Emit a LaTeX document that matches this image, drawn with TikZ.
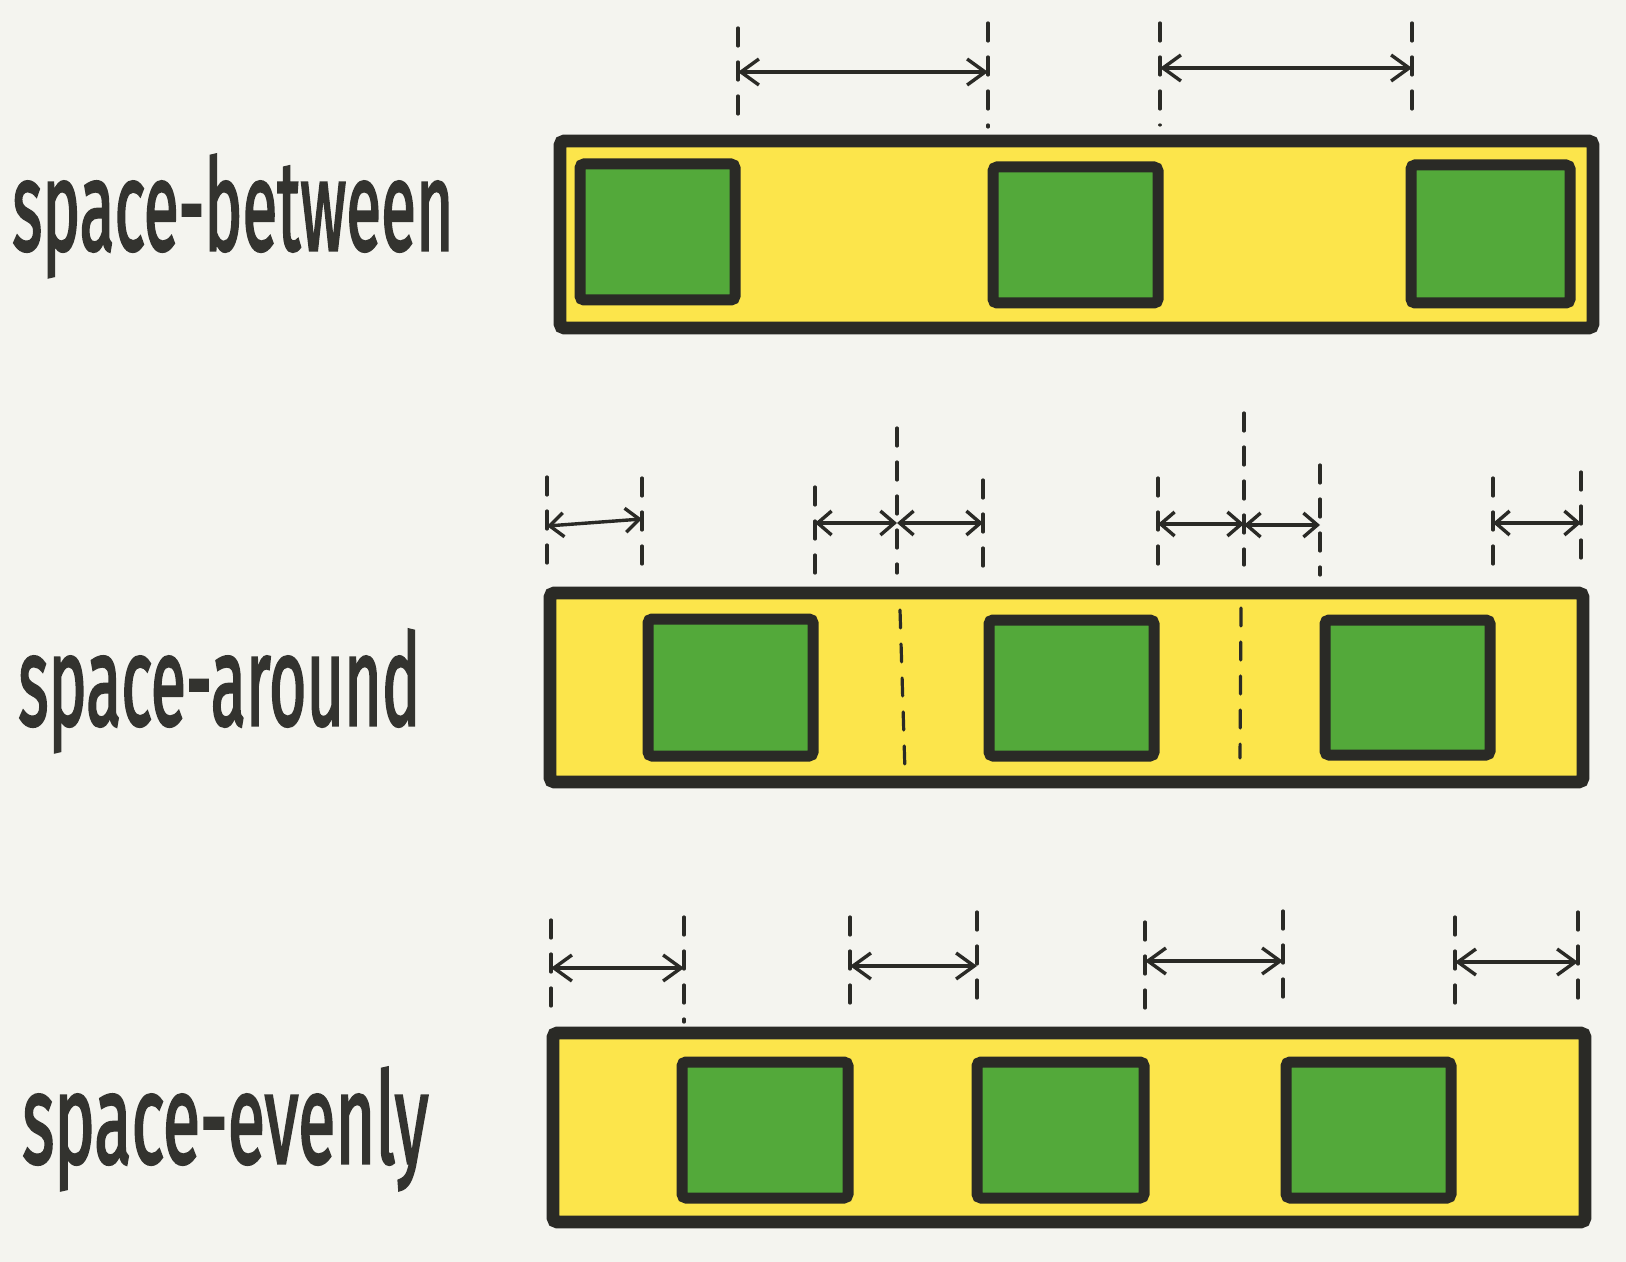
\documentclass[tikz,border=0pt]{standalone}
\usepackage{fontspec}
\setmainfont{Fira Sans}
\newfontfamily\labelfont[FakeBold=2.5]{Fira Sans}
\usetikzlibrary{arrows.meta,fit}
\definecolor{bg}{HTML}{F4F4EF}
\definecolor{yel}{HTML}{FCE54B}
\definecolor{grn}{HTML}{53A93A}
\definecolor{ink}{HTML}{2A2A26}
\definecolor{txt}{HTML}{33332F}
\begin{document}
\begin{tikzpicture}[x=0.5pt,y=-0.5pt,
  outerbox/.style={draw=ink, fill=yel, line width=6.3pt, rounded corners=2pt, inner sep=0pt, outer sep=0pt},
  itembox/.style={draw=ink, fill=grn, line width=5.5pt, rounded corners=2pt, inner sep=0pt, outer sep=0pt},
  guide/.style={draw=ink, line width=1.6pt, dash pattern=on 9pt off 8pt, line cap=round},
  dimbig/.style={draw=ink, line width=1.7pt, {Straight Barb[length=9pt,width=13pt]}-{Straight Barb[length=9pt,width=13pt]}},
  dimsmall/.style={draw=ink, line width=1.7pt, {Straight Barb[length=7pt,width=12pt]}-{Straight Barb[length=7pt,width=12pt]}},
  lbl/.style={text=txt, inner sep=0pt, anchor=base west, font=\labelfont\fontsize{63.5pt}{70pt}\selectfont}]
\useasboundingbox[fill=bg] (0,0) rectangle (1626,1262);

% ---------------- labels ----------------
\node[lbl] (l1) at (12,250) {\resizebox{220.5pt}{\height}{space-between}};
\node[lbl] (l2) at (18,725) {\resizebox{201pt}{\height}{space-around}};
\node[lbl] (l3) at (22,1163) {\resizebox{203pt}{\height}{space-evenly}};

% ---------------- row 1: space-between ----------------
\node[outerbox, fit={(560,141) (1593,328)}] (r1) {};
\node[itembox, fit={(580,164) (735,300)}] (r1a) {};
\node[itembox, fit={(993,167) (1158,303)}] (r1b) {};
\node[itembox, fit={(1411,165) (1570,303)}] (r1c) {};

\coordinate (p1t) at (738,28);  \coordinate (p1b) at (738,117);
\coordinate (p2t) at (988,23);  \coordinate (p2b) at (988,127);
\coordinate (p3t) at (1160,23); \coordinate (p3b) at (1160,125);
\coordinate (p4t) at (1412,23); \coordinate (p4b) at (1412,120);
\foreach \i in {1,...,4} \draw[guide] (p\i t) -- (p\i b);
\coordinate (a1l) at (738,72);  \coordinate (a1r) at (988,72);
\coordinate (a2l) at (1160,68); \coordinate (a2r) at (1412,68);
\draw[dimbig] (a1l) -- (a1r);
\draw[dimbig] (a2l) -- (a2r);

% ---------------- row 2: space-around ----------------
\node[outerbox, fit={(550,593) (1583,782)}] (r2) {};
\node[itembox, fit={(648,619) (813,756)}] (r2a) {};
\node[itembox, fit={(989,620) (1154,756)}] (r2b) {};
\node[itembox, fit={(1325,620) (1490,755)}] (r2c) {};
\coordinate (m1t) at (900,610);  \coordinate (m1b) at (905,772);
\coordinate (m2t) at (1241,608); \coordinate (m2b) at (1240,758);
\draw[guide] (m1t) -- (m1b);
\draw[guide] (m2t) -- (m2b);

\coordinate (q1t) at (547,477);  \coordinate (q1b) at (547,573);
\coordinate (q2t) at (642,478);  \coordinate (q2b) at (642,577);
\coordinate (q3t) at (815,487);  \coordinate (q3b) at (815,573);
\coordinate (q4t) at (897,428);  \coordinate (q4b) at (897,573);
\coordinate (q5t) at (983,480);  \coordinate (q5b) at (983,570);
\coordinate (q6t) at (1158,478); \coordinate (q6b) at (1158,572);
\coordinate (q7t) at (1244,413); \coordinate (q7b) at (1244,565);
\coordinate (q8t) at (1320,465); \coordinate (q8b) at (1320,575);
\coordinate (q9t) at (1493,478); \coordinate (q9b) at (1493,567);
\coordinate (q10t) at (1581,472); \coordinate (q10b) at (1581,568);
\foreach \i in {1,...,10} \draw[guide] (q\i t) -- (q\i b);
\coordinate (b1l) at (547,526);  \coordinate (b1r) at (642,519);
\coordinate (b2l) at (815,523);  \coordinate (b2r) at (897,523);
\coordinate (b3l) at (897,523);  \coordinate (b3r) at (983,523);
\coordinate (b4l) at (1158,524); \coordinate (b4r) at (1244,524);
\coordinate (b5l) at (1244,525); \coordinate (b5r) at (1320,525);
\coordinate (b6l) at (1493,523); \coordinate (b6r) at (1581,523);
\foreach \i in {1,...,6} \draw[dimsmall] (b\i l) -- (b\i r);

% ---------------- row 3: space-evenly ----------------
\node[outerbox, fit={(553,1033) (1585,1222)}] (r3) {};
\node[itembox, fit={(682,1062) (848,1198)}] (r3a) {};
\node[itembox, fit={(977,1062) (1144,1198)}] (r3b) {};
\node[itembox, fit={(1286,1062) (1451,1198)}] (r3c) {};

\coordinate (s1t) at (551,920);  \coordinate (s1b) at (551,1015);
\coordinate (s2t) at (684,917);  \coordinate (s2b) at (684,1022);
\coordinate (s3t) at (850,917);  \coordinate (s3b) at (850,1013);
\coordinate (s4t) at (977,912);  \coordinate (s4b) at (977,1013);
\coordinate (s5t) at (1145,922); \coordinate (s5b) at (1145,1017);
\coordinate (s6t) at (1283,911); \coordinate (s6b) at (1283,1007);
\coordinate (s7t) at (1455,917); \coordinate (s7b) at (1455,1012);
\coordinate (s8t) at (1578,912); \coordinate (s8b) at (1578,1008);
\foreach \i in {1,...,8} \draw[guide] (s\i t) -- (s\i b);
\coordinate (c1l) at (551,968);  \coordinate (c1r) at (684,968);
\coordinate (c2l) at (850,966);  \coordinate (c2r) at (977,966);
\coordinate (c3l) at (1145,961); \coordinate (c3r) at (1283,961);
\coordinate (c4l) at (1455,962); \coordinate (c4r) at (1578,962);
\foreach \i in {1,...,4} \draw[dimbig] (c\i l) -- (c\i r);
\end{tikzpicture}
\end{document}
